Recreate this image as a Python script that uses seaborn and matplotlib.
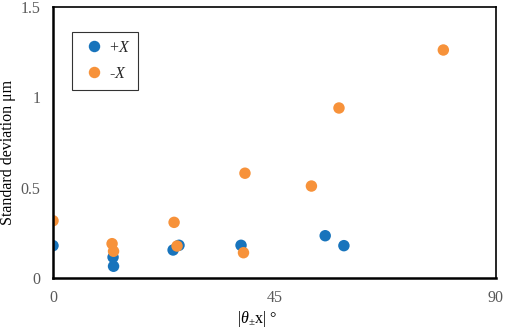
import matplotlib
matplotlib.use("Agg")
import matplotlib.pyplot as plt
import seaborn as sns
import pandas as pd

sns.set_style("white")
plt.rcParams['font.family'] = ['Liberation Serif', 'DejaVu Serif']
plt.rcParams['mathtext.fontset'] = 'custom'
plt.rcParams['mathtext.rm'] = 'Liberation Serif'
plt.rcParams['mathtext.it'] = 'Liberation Serif:italic'

plus_x = [0, 12.2, 12.3, 24.4, 25.6, 38.2, 55.3, 59.1]
plus_y = [0.179, 0.115, 0.065, 0.155, 0.181, 0.181, 0.234, 0.179]
minus_x = [0, 12.0, 12.3, 24.6, 25.2, 38.7, 39.0, 52.5, 58.1, 79.3]
minus_y = [0.317, 0.19, 0.148, 0.308, 0.177, 0.14, 0.58, 0.509, 0.941, 1.262]
series_labels = ['+$X$', '-$X$']
colors = ['#1874BC', '#F7923A']

df = pd.DataFrame({
    'x': plus_x + minus_x,
    'y': plus_y + minus_y,
    's': [series_labels[0]] * len(plus_x) + [series_labels[1]] * len(minus_x),
})

fig = plt.figure(figsize=(5.05, 3.29), dpi=100)
ax = fig.add_axes([53/505, 1 - 278/329, (496-53)/505, (278-7)/329])
sns.scatterplot(data=df, x='x', y='y', hue='s', palette=colors, s=68,
                edgecolor='none', ax=ax, legend=True)

ax.set_xlim(0, 90)
ax.set_ylim(0, 1.5)
ax.set_xticks([0, 45, 90])
ax.set_xticklabels(['0', '45', '90'])
ax.set_yticks([0, 0.5, 1, 1.5])
ax.set_yticklabels(['0', '0.5', '1', '1.5'])
ax.tick_params(axis='both', direction='in', length=4, width=1.5, colors='black',
               labelcolor='#595959', labelsize=11.5)
ax.tick_params(axis='y', pad=9)
ax.tick_params(axis='x', pad=9)
for side in ['left', 'bottom']:
    ax.spines[side].set_linewidth(1.8)
    ax.spines[side].set_color('black')
for side in ['top', 'right']:
    ax.spines[side].set_linewidth(1.2)
    ax.spines[side].set_color('black')

ax.set_xlabel(r'$|\theta_{\pm}\mathrm{x}|$ °', fontsize=11.5, color='black')
ax.set_ylabel('Standard deviation μm', fontsize=11.5, color='black')
ax.xaxis.set_label_coords((257 - 53) / 443, (278 - 309) / 271)
ax.yaxis.set_label_coords((16 - 53) / 443, (278 - 152) / 271)

leg = ax.legend(loc='upper left', bbox_to_anchor=(0.043, 0.908), borderaxespad=0,
                frameon=True, fontsize=11.5, handletextpad=0.0, borderpad=0.5,
                labelspacing=0.62, fancybox=False, handlelength=1.8, markerscale=1.0)
leg.get_frame().set_edgecolor('black')
leg.get_frame().set_linewidth(0.8)
leg.set_title(None)

fig.savefig('out.png', dpi=100)
